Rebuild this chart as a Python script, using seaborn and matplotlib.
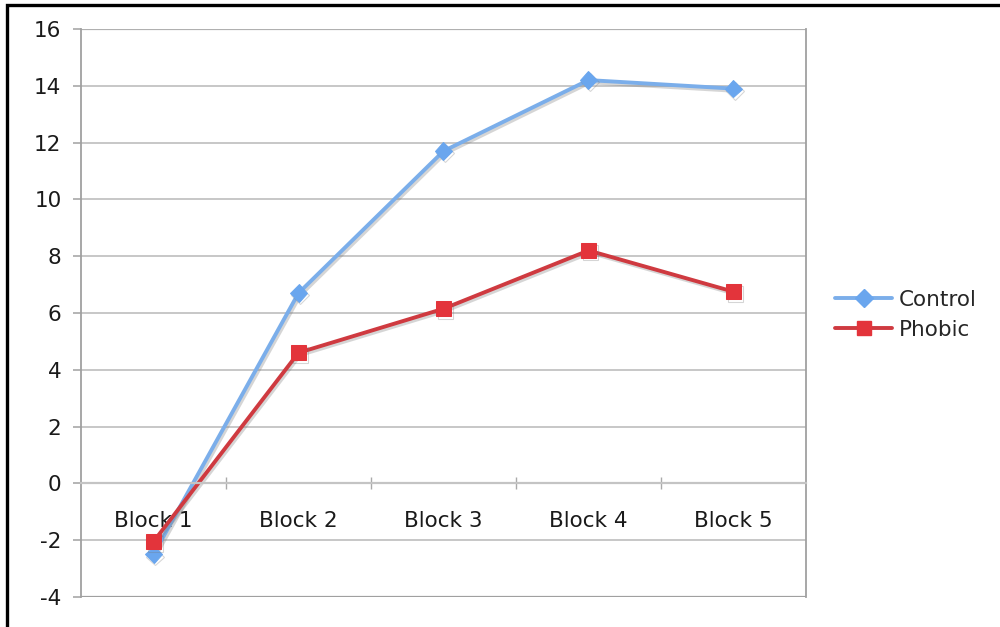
import matplotlib
matplotlib.use("Agg")
import matplotlib.pyplot as plt
import matplotlib.patheffects as pe
from matplotlib.patches import Rectangle
import seaborn as sns
import pandas as pd

blocks = ["Block 1", "Block 2", "Block 3", "Block 4", "Block 5"]
control = [-2.5, 6.7, 11.7, 14.2, 13.9]
phobic = [-2.05, 4.6, 6.15, 8.2, 6.75]
y_ticks = list(range(-4, 17, 2))

df = pd.DataFrame({
    "Block": blocks * 2,
    "Score": control + phobic,
    "Group": ["Control"] * len(blocks) + ["Phobic"] * len(blocks),
})

sns.set_theme(style="white")
plt.rcParams["font.family"] = ["DejaVu Sans"]

fig = plt.figure(figsize=(10, 6.27), dpi=100)
ax = fig.add_axes([0.081, 0.0478, 0.725, 0.906])

line_colors = {"Control": "#7BAEEA", "Phobic": "#CF3A40"}
sns.lineplot(
    data=df, x="Block", y="Score", hue="Group", style="Group",
    palette=line_colors, markers={"Control": "D", "Phobic": "s"},
    dashes=False, linewidth=2.8, ax=ax, legend=False, sort=False,
)

shadow = [pe.SimpleLineShadow(offset=(1.2, -1.6), shadow_color="#777777", alpha=0.3),
          pe.Normal()]
marker_style = {"Control": dict(ms=9, mfc="#6AA6EE", mec="#6AA6EE"),
                "Phobic": dict(ms=11, mfc="#E3343B", mec="#E3343B")}
for line, grp in zip(ax.lines, ["Control", "Phobic"]):
    line.set_path_effects(shadow)
    line.set_markersize(marker_style[grp]["ms"])
    line.set_markerfacecolor(marker_style[grp]["mfc"])
    line.set_markeredgecolor(marker_style[grp]["mec"])

ax.set_xlim(-0.5, len(blocks) - 0.5)
ax.set_ylim(-4, 16)
ax.set_yticks(y_ticks)
ax.set_yticklabels([str(t) for t in y_ticks])
ax.yaxis.grid(True, color="#BDBDBD", linewidth=1.2)
ax.set_axisbelow(True)
ax.set_xlabel("")
ax.set_ylabel("")

for side in ["top", "left", "right"]:
    ax.spines[side].set_color("#A0A0A0")
    ax.spines[side].set_linewidth(1.3)
ax.spines["top"].set_visible(False)
ax.spines["bottom"].set_position(("data", 0))
ax.spines["bottom"].set_color("#C4C4C4")
ax.spines["bottom"].set_linewidth(1.6)
# upper and lower frame edges of the plot area
ax.axhline(-4, color="#A0A0A0", linewidth=1.6, zorder=1)
ax.axhline(16, color="#B0B0B0", linewidth=1.6, zorder=1)

ax.set_xticks(range(len(blocks)))
ax.set_xticklabels(blocks)
ax.set_xticks([i + 0.5 for i in range(len(blocks) - 1)], minor=True)
ax.tick_params(axis="x", which="major", length=0, pad=20, labelsize=15.5, labelcolor="#1a1a1a")
ax.tick_params(axis="x", which="minor", bottom=True, direction="inout", length=8,
               width=1, color="#AAAAAA")
ax.tick_params(axis="y", left=True, length=6, width=1.2, color="#A8A8A8",
               pad=8, labelsize=15.5, labelcolor="#1a1a1a")

handles = [
    plt.Line2D([], [], color=line_colors["Control"], lw=2.8, marker="D", ms=9,
               mfc="#6AA6EE", mec="#6AA6EE"),
    plt.Line2D([], [], color=line_colors["Phobic"], lw=2.8, marker="s", ms=10,
               mfc="#E3343B", mec="#E3343B"),
]
fig.legend(handles, ["Control", "Phobic"], loc="center left",
           bbox_to_anchor=(0.82, 0.498), frameon=False, fontsize=15.5,
           handlelength=2.65, handletextpad=0.3, labelspacing=0.45,
           borderpad=0.2)

fig.patches.append(Rectangle((0.0065, -0.1), 1.2, 1.092, transform=fig.transFigure,
                             fill=False, edgecolor="black", linewidth=2.4))

fig.savefig("out.png", dpi=100, facecolor="white")
